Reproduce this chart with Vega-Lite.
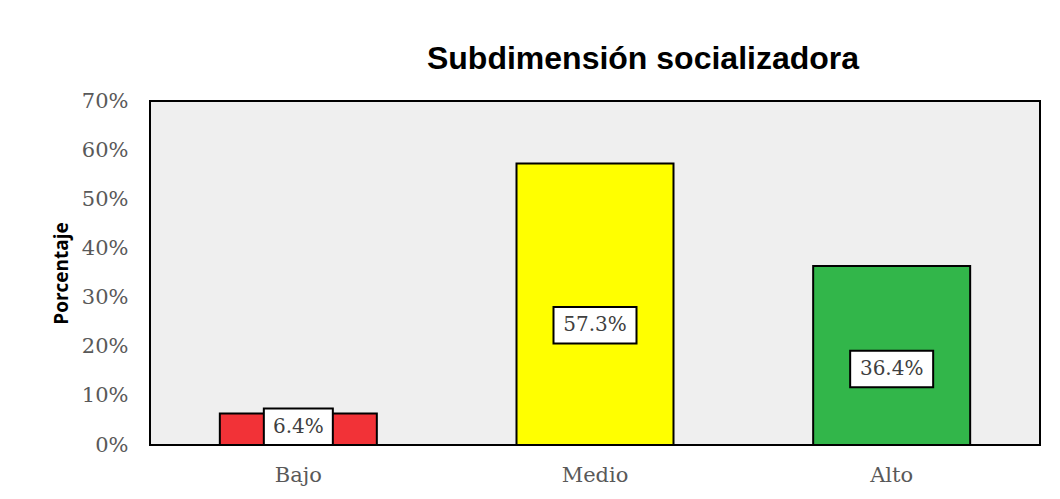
{
  "$schema": "https://vega.github.io/schema/vega-lite/v6.json",
  "width": 890,
  "height": 344,
  "autosize": "none",
  "padding": {"left": 150, "top": 101, "right": 20, "bottom": 54},
  "background": "white",
  "title": {
    "text": "Subdimensión socializadora",
    "font": "Liberation Sans",
    "fontSize": 32,
    "fontWeight": "bold",
    "color": "black",
    "anchor": "middle",
    "dx": 48,
    "dy": 40,
    "offset": 22,
    "baseline": "bottom"
  },
  "data": {
    "values": [
      {"nivel": "Bajo", "pct": 0.064},
      {"nivel": "Medio", "pct": 0.573},
      {"nivel": "Alto", "pct": 0.364}
    ]
  },
  "transform": [
    {"calculate": "max(datum.pct * 0.425, 0.0371)", "as": "lab"},
    {"calculate": "datum.lab - 0.0371", "as": "lab0"},
    {"calculate": "datum.lab + 0.0371", "as": "lab1"},
    {"calculate": "length(format(datum.pct, '.1%'))", "as": "len"}
  ],
  "encoding": {
    "x": {
      "field": "nivel",
      "type": "nominal",
      "sort": ["Bajo", "Medio", "Alto"],
      "title": null,
      "axis": {
        "labelAngle": 0,
        "ticks": false,
        "tickSize": 0,
        "domain": false,
        "grid": false,
        "labelFont": "DejaVu Serif",
        "labelFontSize": 21,
        "labelColor": "#595959",
        "labelPadding": 19
      }
    }
  },
  "layer": [
    {
      "mark": {"type": "bar", "size": 157, "stroke": "black", "strokeWidth": 2},
      "encoding": {
        "y": {
          "field": "pct",
          "type": "quantitative",
          "title": "Porcentaje",
          "scale": {"domain": [0, 0.7]},
          "axis": {
            "values": [0, 0.1, 0.2, 0.3, 0.4, 0.5, 0.6, 0.7],
            "format": ".0%",
            "grid": false,
            "ticks": false,
            "tickSize": 0,
            "domain": false,
            "labelFont": "DejaVu Serif",
            "labelFontSize": 21,
            "labelColor": "#595959",
            "labelPadding": 22,
            "titleFont": "Open Sans",
            "titleFontWeight": "bold",
            "titleFontSize": 19,
            "titleColor": "black",
            "titlePadding": 10
          }
        },
        "color": {
          "field": "nivel",
          "type": "nominal",
          "scale": {"domain": ["Bajo", "Medio", "Alto"], "range": ["#f23237", "#ffff00", "#32b64a"]},
          "legend": null
        }
      }
    },
    {
      "mark": {"type": "bar", "fill": "white", "stroke": "black", "strokeWidth": 2},
      "encoding": {
        "y": {"field": "lab0", "type": "quantitative", "title": "Porcentaje"},
        "y2": {"field": "lab1"},
        "size": {
          "field": "len",
          "type": "quantitative",
          "scale": {"domain": [4, 5], "range": [69, 83], "zero": false},
          "legend": null
        }
      }
    },
    {
      "mark": {"type": "text", "font": "DejaVu Serif", "fontSize": 20, "color": "#404040"},
      "encoding": {
        "y": {"field": "lab", "type": "quantitative", "title": "Porcentaje"},
        "text": {"field": "pct", "type": "quantitative", "format": ".1%"}
      }
    }
  ],
  "config": {
    "view": {"fill": "#efefef", "stroke": "black", "strokeWidth": 2}
  }
}
